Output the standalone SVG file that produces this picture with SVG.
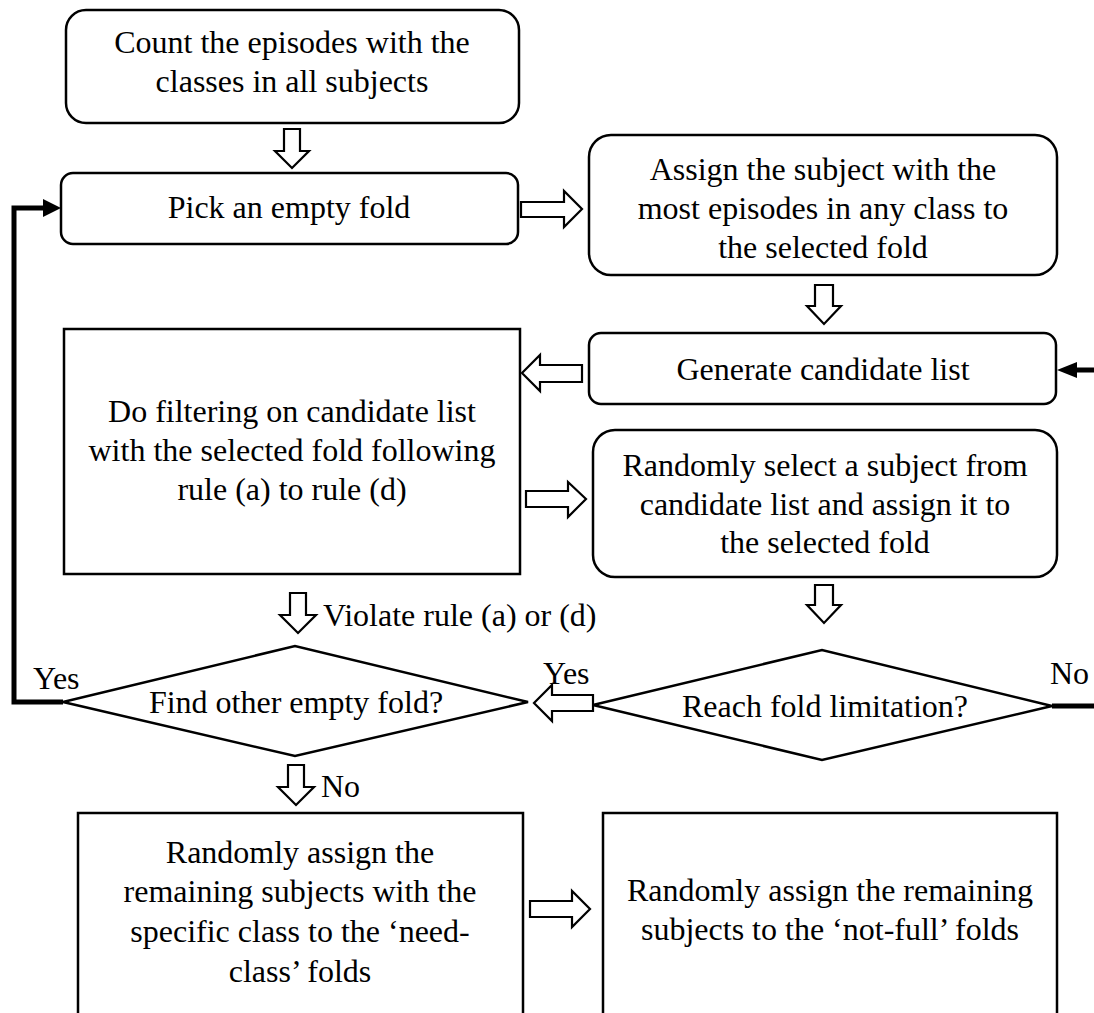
<svg xmlns="http://www.w3.org/2000/svg" width="1094" height="1013" viewBox="0 0 1094 1013">
<style>
.box{fill:#fff;stroke:#000;stroke-width:2.5}
.ha{fill:#fff;stroke:#000;stroke-width:2.2;stroke-linejoin:miter}
.thick{fill:none;stroke:#000;stroke-width:5}
.head{fill:#000}
text{font-family:"Liberation Serif","Times New Roman",serif;font-size:32px;fill:#000}
.c{text-anchor:middle}
</style>
<rect width="1094" height="1013" fill="#fff"/>

<g id="n1">
<rect class="box" x="66" y="10" width="453" height="113" rx="20"/>
<text class="c" x="292" y="53">Count the episodes with the</text>
<text class="c" x="292" y="92">classes in all subjects</text>
</g>
<g id="n2">
<rect class="box" x="61" y="173" width="457" height="71" rx="12"/>
<text class="c" x="289" y="218">Pick an empty fold</text>
</g>
<g id="n3">
<rect class="box" x="589" y="135" width="468" height="140" rx="22"/>
<text class="c" x="823" y="180">Assign the subject with the</text>
<text class="c" x="823" y="219">most episodes in any class to</text>
<text class="c" x="823" y="258">the selected fold</text>
</g>
<g id="n4">
<rect class="box" x="589" y="333" width="467" height="71" rx="12"/>
<text class="c" x="823" y="380">Generate candidate list</text>
</g>
<g id="n5">
<rect class="box" x="64" y="329" width="456" height="245"/>
<text class="c" x="292" y="422">Do filtering on candidate list</text>
<text class="c" x="292" y="461">with the selected fold following</text>
<text class="c" x="292" y="500">rule (a) to rule (d)</text>
</g>
<g id="n6">
<rect class="box" x="593" y="430" width="464" height="147" rx="22"/>
<text class="c" x="825" y="476">Randomly select a subject from</text>
<text class="c" x="825" y="515">candidate list and assign it to</text>
<text class="c" x="825" y="553">the selected fold</text>
</g>
<g id="n7">
<polygon class="box" points="63,702 295,646 528,702 295,756"/>
<text class="c" x="296" y="713">Find other empty fold?</text>
</g>
<g id="n8">
<polygon class="box" points="593,705 822,650 1052,706 822,760"/>
<text class="c" x="825" y="717">Reach fold limitation?</text>
</g>
<g id="n9">
<rect class="box" x="78" y="813" width="445" height="210"/>
<text class="c" x="300" y="863">Randomly assign the</text>
<text class="c" x="300" y="902">remaining subjects with the</text>
<text class="c" x="300" y="942">specific class to the ‘need-</text>
<text class="c" x="300" y="982">class’ folds</text>
</g>
<g id="n10">
<rect class="box" x="603" y="813" width="454" height="210"/>
<text class="c" x="830" y="901">Randomly assign the remaining</text>
<text class="c" x="830" y="940">subjects to the ‘not-full’ folds</text>
</g>

<g id="connectors">
<polygon class="ha" points="284,129 300,129 300,151 309,151 292,168 275,151 284,151"/>
<polygon class="ha" points="521,202 564,202 564,191 582,209 564,227 564,217 521,217"/>
<polygon class="ha" points="815,285 833,285 833,306 841,306 824,324 807,306 815,306"/>
<polygon class="ha" points="582,365 540,365 540,355 522,373 540,391 540,382 582,382"/>
<polygon class="ha" points="526,491 568,491 568,482 586,499 568,517 568,507 526,507"/>
<polygon class="ha" points="815,585 833,585 833,605 841,605 824,623 807,605 815,605"/>
<polygon class="ha" points="290,593 306,593 306,615 316,615 298,633 280,615 290,615"/>
<polygon class="ha" points="593,695 552,695 552,685 534,703 552,721 552,711 593,711"/>
<polygon class="ha" points="288,765 304,765 304,787 314,787 296,805 278,787 288,787"/>
<polygon class="ha" points="530,901 572,901 572,891 590,909 572,927 572,917 530,917"/>
<path class="thick" d="M63,702 H14 V208 H46"/>
<polygon class="head" points="61,208 43,199 43,217"/>
<path class="thick" d="M1052,706 H1100 V370 H1074"/>
<polygon class="head" points="1057,370 1077,362 1077,378"/>
<text x="323" y="626">Violate rule (a) or (d)</text>
<text x="321" y="797">No</text>
<text x="33" y="689">Yes</text>
<text x="543" y="684">Yes</text>
<text x="1050" y="684">No</text>
</g>
</svg>
